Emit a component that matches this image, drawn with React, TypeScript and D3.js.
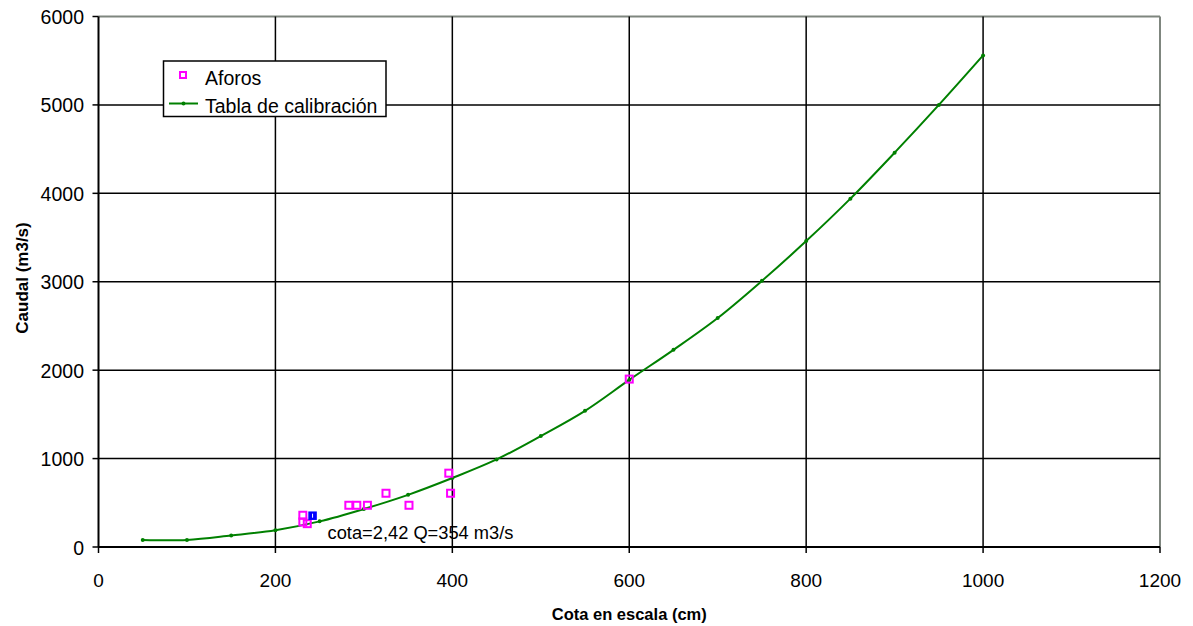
import React from "react";
import * as d3 from "d3";

// Rating curve (calibration table): stage in cm, discharge in m3/s
const tablaCota = [50, 100, 150, 200, 250, 300, 350, 400, 450, 500, 550, 600, 650, 700, 750, 800, 850, 900, 950, 1000];
const tablaCaudal = [80, 80, 130, 190, 290, 430, 590, 780, 990, 1255, 1540, 1890, 2230, 2590, 3010, 3460, 3940, 4460, 5000, 5560];

// Field gaugings
const aforosCota = [231, 231, 236, 283, 292, 304, 325, 351, 396, 398, 600];
const aforosCaudal = [359, 283, 264, 472, 472, 472, 608, 472, 835, 608, 1899];

// Highlighted gauging
const puntoCota = [242];
const puntoCaudal = [354];

const xTicks = [0, 200, 400, 600, 800, 1000, 1200];
const yTicks = [0, 1000, 2000, 3000, 4000, 5000, 6000];

const W = 1193;
const H = 626;
const M = { left: 98.5, right: 1160, top: 16.5, bottom: 547 };
const FONT = "'Liberation Sans', Arial, sans-serif";

export default function App() {
  const x = d3.scaleLinear().domain([0, 1200]).range([M.left, M.right]);
  const y = d3.scaleLinear().domain([0, 6000]).range([M.bottom, M.top]);

  const tabla = tablaCota.map((c, i) => [c, tablaCaudal[i]] as [number, number]);
  const line = d3
    .line<[number, number]>()
    .x((d) => x(d[0]))
    .y((d) => y(d[1]))
    .curve(d3.curveCatmullRom.alpha(0.5));

  const sq = 7;

  return (
    <svg width={W} height={H} style={{ position: "absolute", left: 0, top: 0, background: "#fff" }} fontFamily={FONT}>
      {/* plot frame (top/right in grey) */}
      <line x1={M.left} x2={M.right} y1={M.top} y2={M.top} stroke="#7f867f" strokeWidth={2} />
      <line x1={M.right} x2={M.right} y1={M.top} y2={M.bottom} stroke="#7f867f" strokeWidth={2} />

      {/* grid */}
      {xTicks.slice(1, -1).map((t) => (
        <line key={"gx" + t} x1={x(t)} x2={x(t)} y1={M.top} y2={M.bottom} stroke="#000" strokeWidth={1.5} />
      ))}
      {yTicks.slice(1, -1).map((t) => (
        <line key={"gy" + t} x1={M.left} x2={M.right} y1={y(t)} y2={y(t)} stroke="#000" strokeWidth={1.5} />
      ))}

      {/* axes */}
      <line x1={M.left} x2={M.left} y1={M.top} y2={M.bottom} stroke="#000" strokeWidth={2} />
      <line x1={M.left} x2={M.right} y1={M.bottom} y2={M.bottom} stroke="#000" strokeWidth={2} />
      {yTicks.map((t) => (
        <g key={"ty" + t}>
          <line x1={M.left - 6} x2={M.left} y1={y(t)} y2={y(t)} stroke="#000" strokeWidth={1.5} />
          <text x={84} y={y(t) + 7.5} textAnchor="end" fontSize={19.5}>
            {t}
          </text>
        </g>
      ))}
      {xTicks.map((t) => (
        <g key={"tx" + t}>
          <line x1={x(t)} x2={x(t)} y1={M.bottom} y2={M.bottom + 6} stroke="#000" strokeWidth={1.5} />
          <text x={x(t)} y={587} textAnchor="middle" fontSize={19}>
            {t}
          </text>
        </g>
      ))}

      {/* axis titles */}
      <text x={(M.left + M.right) / 2} y={619.5} textAnchor="middle" fontSize={16.5} fontWeight="bold">
        Cota en escala (cm)
      </text>
      <text transform={`translate(28,278) rotate(-90)`} textAnchor="middle" fontSize={17} fontWeight="bold">
        Caudal (m3/s)
      </text>

      {/* calibration curve */}
      <path d={line(tabla) ?? ""} fill="none" stroke="#008000" strokeWidth={2} />
      {tabla.map((d, i) => (
        <circle key={"tp" + i} cx={x(d[0])} cy={y(d[1])} r={2} fill="#008000" />
      ))}

      {/* gaugings */}
      {aforosCota.map((c, i) => (
        <rect
          key={"af" + i}
          x={x(c) - sq / 2}
          y={y(aforosCaudal[i]) - sq / 2}
          width={sq}
          height={sq}
          fill="none"
          stroke="#ff00ff"
          strokeWidth={2}
        />
      ))}
      {puntoCota.map((c, i) => (
        <g key={"pt" + i}>
          <rect x={x(c) - sq / 2} y={y(puntoCaudal[i]) - sq / 2} width={sq} height={sq} fill="#0000ff" stroke="#0000ff" strokeWidth={1.5} />
          <line x1={x(c)} x2={x(c)} y1={y(puntoCaudal[i]) - 2} y2={y(puntoCaudal[i]) + 2} stroke="#fff" strokeWidth={1} />
        </g>
      ))}
      <text x={327.5} y={538.5} fontSize={18.3}>
        cota=2,42 Q=354 m3/s
      </text>

      {/* legend */}
      <rect x={163.5} y={61} width={222.5} height={55.5} fill="#fff" stroke="#000" strokeWidth={1.5} />
      <rect x={183 - 3} y={75 - 3} width={6} height={6} fill="none" stroke="#ff00ff" strokeWidth={2} />
      <text x={205} y={85} fontSize={19.5}>
        Aforos
      </text>
      <line x1={169} x2={198} y1={103.5} y2={103.5} stroke="#008000" strokeWidth={2} />
      <circle cx={183.5} cy={103.5} r={2} fill="#008000" />
      <text x={205} y={113} fontSize={19.5}>
        Tabla de calibración
      </text>
    </svg>
  );
}
